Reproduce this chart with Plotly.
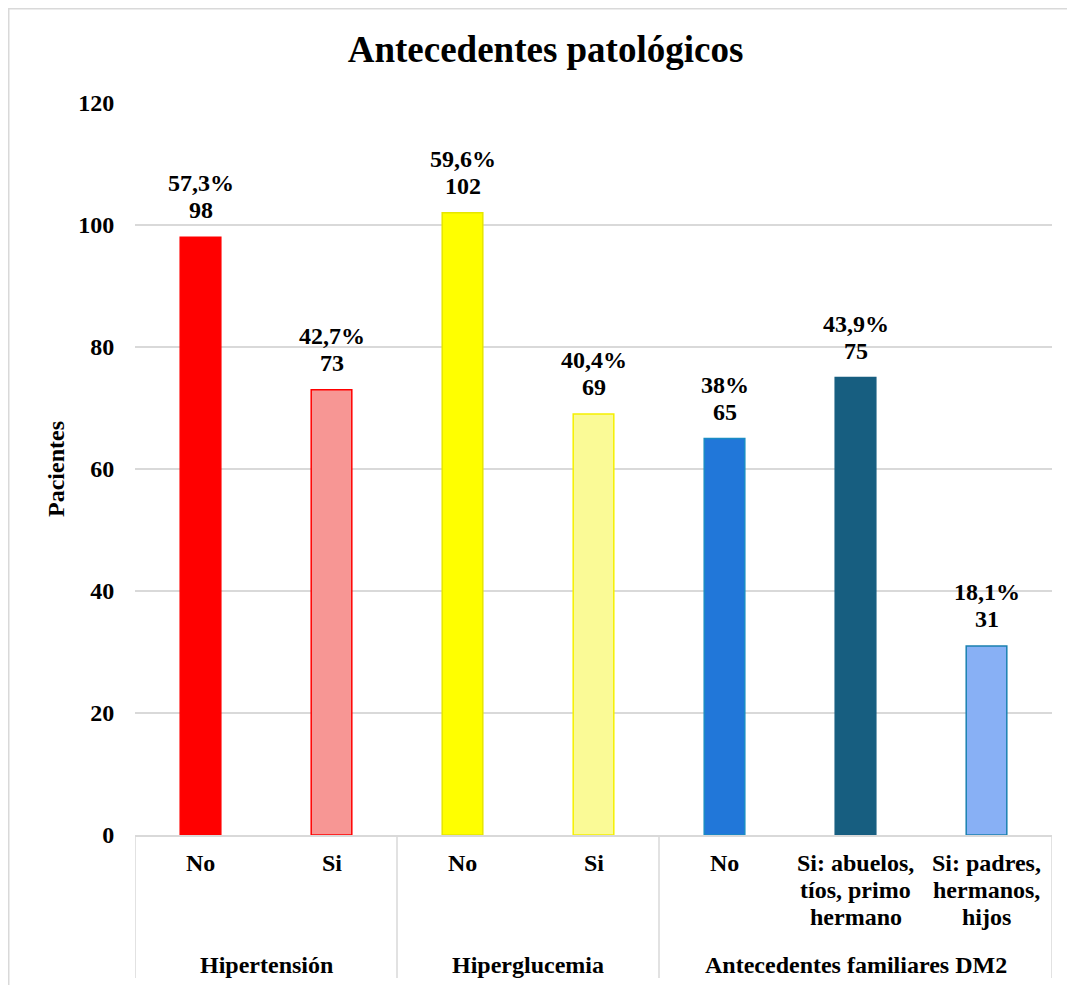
import plotly.graph_objects as go

categories = ["No", "Si", "No", "Si", "No", "Si: abuelos,<br>tíos, primo<br>hermano", "Si: padres,<br>hermanos,<br>hijos"]
groups = ["Hipertensión", "Hiperglucemia", "Antecedentes familiares DM2"]
group_sizes = [2, 2, 3]
values = [98, 73, 102, 69, 65, 75, 31]
percents = ["57,3%", "42,7%", "59,6%", "40,4%", "38%", "43,9%", "18,1%"]
fill_colors = ["#FF0000", "#F79694", "#FFFF00", "#FAFA96", "#2177D9", "#175E80", "#88B0F5"]
line_colors = ["#FF0000", "#FF0000", "#E6E600", "#F5F000", "#1A8CC4", "#175E80", "#1A80B0"]
y_ticks = [0, 20, 40, 60, 80, 100, 120]

FONT = "Liberation Serif, Times New Roman, serif"
FS = 24
W, H = 1075, 985
ml, mr, mt, mb = 127, 31, 95, 158
pw, ph = W - ml - mr, H - mt - mb
LINE = 27  # line spacing of the multi-line labels (px)

x_idx = list(range(len(categories)))
fig = go.Figure()
fig.add_trace(go.Bar(
    x=x_idx, y=values,
    marker=dict(color=fill_colors, line=dict(color=line_colors, width=1.5)),
    width=0.31,
    hoverinfo="skip",
))

grid = "#D9D9D9"
fig.update_layout(
    width=W, height=H,
    margin=dict(l=ml, r=mr, t=mt, b=mb),
    paper_bgcolor="white", plot_bgcolor="white",
    showlegend=False,
    title=dict(text="<b>Antecedentes patológicos</b>", x=0.5, xref="container",
               y=1 - 41 / H, yref="container", xanchor="center", yanchor="middle",
               font=dict(family=FONT, size=37, color="black")),
    xaxis=dict(range=[-0.5, len(categories) - 0.5], showticklabels=False, showgrid=False,
               ticks="", showline=True, linecolor=grid, linewidth=1.5, zeroline=False),
    yaxis=dict(range=[0, 120], tickvals=y_ticks, ticktext=[f"<b>{t}</b>" for t in y_ticks],
               tickfont=dict(family=FONT, size=FS, color="black"),
               showgrid=True, gridcolor=grid, gridwidth=1.5, zeroline=False,
               showline=False, ticks="outside", ticklen=15, tickcolor="white",
               title=dict(text="<b>Pacientes</b>", font=dict(family=FONT, size=FS, color="black"),
                          standoff=6)),
)

# data labels (percent and count), one annotation per line
for i, (p, v) in enumerate(zip(percents, values)):
    for k, txt in enumerate([str(v), p]):
        fig.add_annotation(x=i, y=v, xref="x", yref="y", text=f"<b>{txt}</b>", showarrow=False,
                           yanchor="middle", yshift=27 + k * LINE,
                           font=dict(family=FONT, size=FS, color="black"))

# category labels
for i, c in enumerate(categories):
    for k, line in enumerate(c.split("<br>")):
        fig.add_annotation(x=i, xref="x", y=0, yref="paper", text=f"<b>{line}</b>",
                           showarrow=False, yanchor="middle", yshift=-28 - k * LINE,
                           font=dict(family=FONT, size=FS, color="black"))

# chart border
fig.add_shape(type="rect", xref="paper", yref="paper",
              x0=(0.75 - ml) / pw, x1=(1090 - ml) / pw,
              y0=(mt + ph - 1000) / ph, y1=(mt + ph - 0.75) / ph,
              line=dict(color=grid, width=1.5), fillcolor="rgba(0,0,0,0)", layer="below")

# group separators and group labels
y_bottom = (mt + ph - 970) / ph
start = 0
bounds = [-0.5]
for g, n in zip(groups, group_sizes):
    end = start + n
    bounds.append(end - 0.5)
    center = (start + end - 1) / 2
    fig.add_annotation(x=center, xref="x", y=0, yref="paper", yshift=-130,
                       text=f"<b>{g}</b>", showarrow=False, yanchor="middle",
                       font=dict(family=FONT, size=FS, color="black"))
    start = end
for b in bounds:
    fig.add_shape(type="line", xref="x", yref="paper", x0=b, x1=b, y0=0, y1=y_bottom,
                  line=dict(color=grid, width=1.5))

fig.write_html("out.html")
